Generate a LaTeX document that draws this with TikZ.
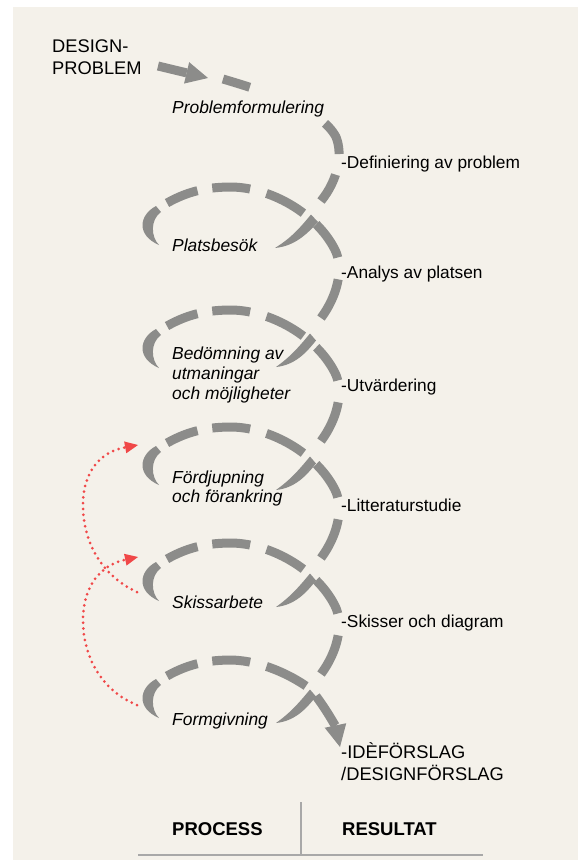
\documentclass[tikz,border=0pt]{standalone}
\usepackage{fontspec}
\setmainfont{Liberation Sans}
\usetikzlibrary{arrows.meta}
\definecolor{bgc}{RGB}{244,241,234}
\definecolor{spir}{RGB}{140,140,138}
\definecolor{redd}{RGB}{240,72,72}
\definecolor{linec}{RGB}{168,168,168}
\tikzset{
  coil/.style={draw=spir, line width=9pt, line cap=butt},
  cres/.style={fill=spir},
  garrow/.style={draw=spir, line width=9pt, -{Triangle[length=22pt,width=22pt,line width=0pt]}},
  redarr/.style={draw=redd, line width=3pt, line cap=round, dash pattern=on 0pt off 5.8pt, -{Triangle[length=13pt,width=12pt,line width=0pt]}},
  lab/.style={font=\fontsize{17.4}{20}\selectfont\itshape, anchor=base west, inner sep=0pt},
  res/.style={font=\fontsize{17.3}{20}\selectfont, anchor=base west, inner sep=0pt},
  big/.style={font=\fontsize{18.3}{21}\selectfont, anchor=base west, inner sep=0pt},
  hdr/.style={font=\fontsize{18.5}{21}\selectfont\bfseries, anchor=base west, inner sep=0pt},
  sepline/.style={draw=linec, line width=2pt}
}
\begin{document}
\begin{tikzpicture}[x=1pt,y=-1pt]
\useasboundingbox (0,0) rectangle (578,860);
\fill[white] (0,0) rectangle (578,860);
\fill[bgc] (13,7) rectangle (578,860);

% texts
\node[big] (dp1) at (52,52) {DESIGN-};
\node[big] (dp2) at (52,74) {PROBLEM};
\node[lab] (pf) at (172,113) {Problemformulering};
\node[res] (r1) at (341,168) {-Definiering av problem};
\node[lab] (pb) at (172,251) {Platsbesök};
\node[res] (r2) at (341,278) {-Analys av platsen};
\node[lab] (bd1) at (172,359) {Bedömning av};
\node[lab] (bd2) at (172,379) {utmaningar};
\node[lab] (bd3) at (172,399) {och möjligheter};
\node[res] (r3) at (341,391) {-Utvärdering};
\node[lab] (fd1) at (172,483) {Fördjupning};
\node[lab] (fd2) at (172,502) {och förankring};
\node[res] (r4) at (341,511) {-Litteraturstudie};
\node[lab] (sk) at (172,608) {Skissarbete};
\node[res] (r5) at (341,627) {-Skisser och diagram};
\node[lab] (fg) at (172,725) {Formgivning};
\node[big] (r6a) at (341,758) {-IDÈFÖRSLAG};
\node[big] (r6b) at (341,780) {/DESIGNFÖRSLAG};
\node[hdr] (proc) at (172,835) {PROCESS};
\node[hdr] (resu) at (342,835) {RESULTAT};

% bottom separators
\coordinate (vt) at (301,802);
\coordinate (vb) at (301,855);
\coordinate (hl) at (138,855);
\coordinate (hr) at (483,855);
\draw[sepline] (vt) -- (vb);
\draw[sepline] (hl) -- (hr);

% start arrow
\coordinate (a0s) at (158,66);
\coordinate (a0e) at (208,78);
\draw[garrow] (a0s) -- (a0e);

% first coil (from arrow)
\draw[coil, dash pattern=on 28pt off 84pt on 35pt off 21pt on 60pt]
  (223,79) .. controls (270,93) and (322,110) .. (336,137)
  .. controls (343,154) and (338,180) .. (321,201);
\fill[cres] (311,214.5) .. controls (299,229) and (291,238) .. (275,248)
  .. controls (295,246) and (307,234) .. (318,222) -- cycle;

% full coils
\foreach \T in {187,310,427,543}{
  \fill[cres] (156,\T+19) .. controls (139,\T+28) and (136,\T+48) .. (159,\T+58)
     .. controls (151,\T+50) and (150,\T+33) .. (161,\T+25) -- cycle;
  \draw[coil, dash pattern=on 33pt off 15pt on 38pt off 17pt on 42pt off 17pt on 40pt off 22pt on 60pt]
    (167,\T+16) .. controls (190,\T+3) and (210,\T) .. (232,\T)
    .. controls (275,\T+1) and (320,\T+30) .. (336,\T+65)
    .. controls (343,\T+82) and (338,\T+108) .. (321,\T+131);
  \fill[cres] (310,\T+146.5) .. controls (298,\T+161) and (290,\T+170) .. (276,\T+180)
     .. controls (295,\T+178) and (306,\T+166) .. (316,\T+153.5) -- cycle;
}

% last coil
\fill[cres] (156,679) .. controls (139,688) and (136,708) .. (159,718)
   .. controls (151,710) and (150,693) .. (161,685) -- cycle;
\draw[coil, dash pattern=on 33pt off 15pt on 38pt off 17pt on 70pt]
  (167,676) .. controls (190,663) and (210,660) .. (232,660)
  .. controls (262,661) and (290,675) .. (306,686);
\coordinate (aes) at (316,696);
\coordinate (aee) at (340,747);
\draw[garrow] (aes) .. controls (330,715) and (336,728) .. (aee);

% red dotted feedback arrows
\coordinate (q1s) at (137,592);
\coordinate (q1e) at (138,445);
\coordinate (q2s) at (137,705);
\coordinate (q2e) at (138,557);
\draw[redarr] (q1s) .. controls (100,575) and (83,540) .. (83,505)
   .. controls (83,472) and (100,452) .. (q1e);
\draw[redarr] (q2s) .. controls (100,690) and (83,655) .. (83,620)
   .. controls (83,587) and (100,565) .. (q2e);
\end{tikzpicture}
\end{document}
